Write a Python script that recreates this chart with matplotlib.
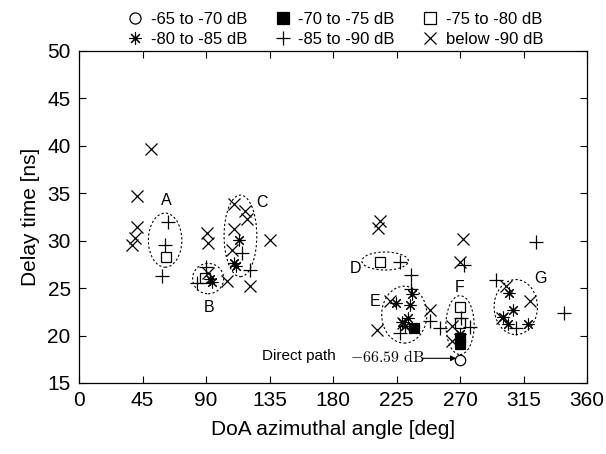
import matplotlib
matplotlib.use("Agg")
import matplotlib.pyplot as plt
from matplotlib.patches import Ellipse
from matplotlib.lines import Line2D

plt.rcParams['font.family'] = ['Liberation Sans', 'DejaVu Sans']
plt.rcParams['mathtext.fontset'] = 'cm'

# ---- data (DoA azimuth [deg], delay [ns]) ----
circle_x = [270]
circle_y = [17.4]

fsq_x = [237.4, 270.3, 270.3]
fsq_y = [20.8, 19.7, 19.1]

osq_x = [61.7, 89.5, 213.0, 270.0, 270.0]
osq_y = [28.3, 26.1, 27.8, 23.0, 21.3]

ast_x = [113.6, 110.0, 111.2, 92.8, 94.5, 224.6, 235.7, 234.5, 233.4, 228.8, 231.0,
         270.0, 304.9, 307.8, 300.7, 304.0, 318.2]
ast_y = [30.1, 27.6, 27.3, 26.0, 25.6, 23.4, 24.4, 23.2, 21.9, 21.4, 21.0,
         20.2, 24.5, 22.7, 22.0, 21.2, 21.2]

plus_x = [63.3, 60.9, 58.6, 89.8, 83.4, 115.5, 121.0, 227.5, 235.0, 235.5, 227.5,
          248.8, 256.0, 272.8, 277.0, 270.5, 295.5, 309.5, 323.5, 344.0]
plus_y = [32.0, 29.5, 26.3, 27.2, 25.5, 28.7, 26.9, 27.8, 26.4, 24.9, 20.3,
          21.5, 20.8, 27.4, 20.9, 21.8, 25.9, 20.8, 29.9, 22.4]

cross_x = [51.0, 40.9, 40.9, 39.7, 37.3, 90.5, 91.2, 91.5, 104.7, 109.5, 117.6, 118.8,
           109.9, 108.2, 121.2, 135.6, 213.3, 212.1, 211.5, 220.4, 248.7, 229.5,
           272.2, 270.0, 264.1, 264.6, 302.8, 319.8, 299.5]
cross_y = [39.7, 34.7, 31.4, 30.3, 29.5, 30.8, 29.7, 26.6, 25.7, 33.9, 33.1, 32.3,
           31.2, 29.0, 25.2, 30.1, 32.1, 31.3, 20.6, 23.6, 22.7, 21.3,
           30.2, 27.8, 21.0, 19.4, 25.2, 23.6, 21.8]

legend_labels = ['-65 to -70 dB', '-70 to -75 dB', '-75 to -80 dB',
                 '-80 to -85 dB', '-85 to -90 dB', 'below -90 dB']

# clusters: name, centre x, centre y, width, height, label x, label y
cl_names = ['A', 'B', 'C', 'D', 'E', 'F', 'G']
cl_cx = [61.0, 91.5, 114.4, 216.9, 230.5, 270.0, 309.5]
cl_cy = [30.05, 26.0, 30.5, 27.85, 22.2, 21.1, 23.0]
cl_w = [23.7, 22.0, 23.2, 33.0, 32.0, 20.0, 30.7]
cl_h = [5.7, 3.2, 8.6, 1.9, 6.0, 6.2, 5.8]
cl_lx = [62.0, 92.0, 130.0, 195.6, 210.0, 270.0, 326.7]
cl_ly = [34.2, 23.0, 34.0, 27.1, 23.6, 25.1, 26.0]

xticks = [0, 45, 90, 135, 180, 225, 270, 315, 360]
yticks = [15, 20, 25, 30, 35, 40, 45, 50]

# ---- figure ----
fig = plt.figure(figsize=(6.06, 4.54), dpi=100)
ax = fig.add_axes([0.1304, 0.1564, 0.8383, 0.7317])

ms = 7.5
mew = 0.9
ax.plot(circle_x, circle_y, 'o', ms=ms, mfc='white', mec='black', mew=mew, zorder=3)
ax.plot(fsq_x, fsq_y, 's', ms=ms, mfc='black', mec='black', mew=mew, zorder=3)
ax.plot(osq_x, osq_y, 's', ms=ms, mfc='none', mec='black', mew=mew, zorder=3)
ax.plot(ast_x, ast_y, ls='none', marker=(8, 2, 0), ms=ms + 1, mec='black', mew=0.8, zorder=3)
ax.plot(plus_x, plus_y, '+', ms=ms + 2, mec='black', mew=mew, zorder=3)
ax.plot(cross_x, cross_y, 'x', ms=ms + 1, mec='black', mew=mew, zorder=3)

for n, cx, cy, w, h, lx, ly in zip(cl_names, cl_cx, cl_cy, cl_w, cl_h, cl_lx, cl_ly):
    ax.add_patch(Ellipse((cx, cy), w, h, fill=False, ec='black', lw=0.8,
                         ls=(0, (2.0, 2.0)), zorder=2))
    ax.text(lx, ly, n, fontsize=11.5, ha='center', va='center')

# direct path annotation
ax.text(182, 17.85, 'Direct path', fontsize=11, ha='right', va='center')
ax.text(192, 17.75, r'$-66.59\ \mathrm{dB}$', fontsize=11.5, ha='left', va='center')
ax.annotate('', xy=(267.3, 17.6), xytext=(243.5, 17.6),
            arrowprops=dict(arrowstyle='-|>', color='black', lw=0.8,
                            mutation_scale=8, shrinkA=0, shrinkB=0))

ax.set_xlim(0, 360)
ax.set_ylim(15, 50)
ax.set_xticks(xticks)
ax.set_yticks(yticks)
ax.tick_params(direction='in', top=True, right=True, length=5, width=0.8,
               labelsize=15, pad=6)
for s in ax.spines.values():
    s.set_linewidth(0.9)
ax.set_xlabel('DoA azimuthal angle [deg]', fontsize=15, labelpad=7)
ax.set_ylabel('Delay time [ns]', fontsize=15, labelpad=5)

handles = [
    Line2D([], [], ls='none', marker='o', ms=ms + 0.5, mfc='white', mec='black', mew=mew),
    Line2D([], [], ls='none', marker=(8, 2, 0), ms=ms + 1.5, mec='black', mew=0.8),
    Line2D([], [], ls='none', marker='s', ms=ms + 0.5, mfc='black', mec='black', mew=mew),
    Line2D([], [], ls='none', marker='+', ms=ms + 3, mec='black', mew=mew),
    Line2D([], [], ls='none', marker='s', ms=ms + 0.5, mfc='none', mec='black', mew=mew),
    Line2D([], [], ls='none', marker='x', ms=ms + 1.5, mec='black', mew=mew),
]
labels = [legend_labels[0], legend_labels[3], legend_labels[1],
          legend_labels[4], legend_labels[2], legend_labels[5]]
fig.legend(handles, labels, loc='upper center', bbox_to_anchor=(0.553, 0.995),
           ncol=3, frameon=False, fontsize=12, handlelength=1.0,
           handletextpad=0.45, columnspacing=1.6, labelspacing=0.3,
           borderaxespad=0.2)

fig.savefig('out.png', dpi=100)
